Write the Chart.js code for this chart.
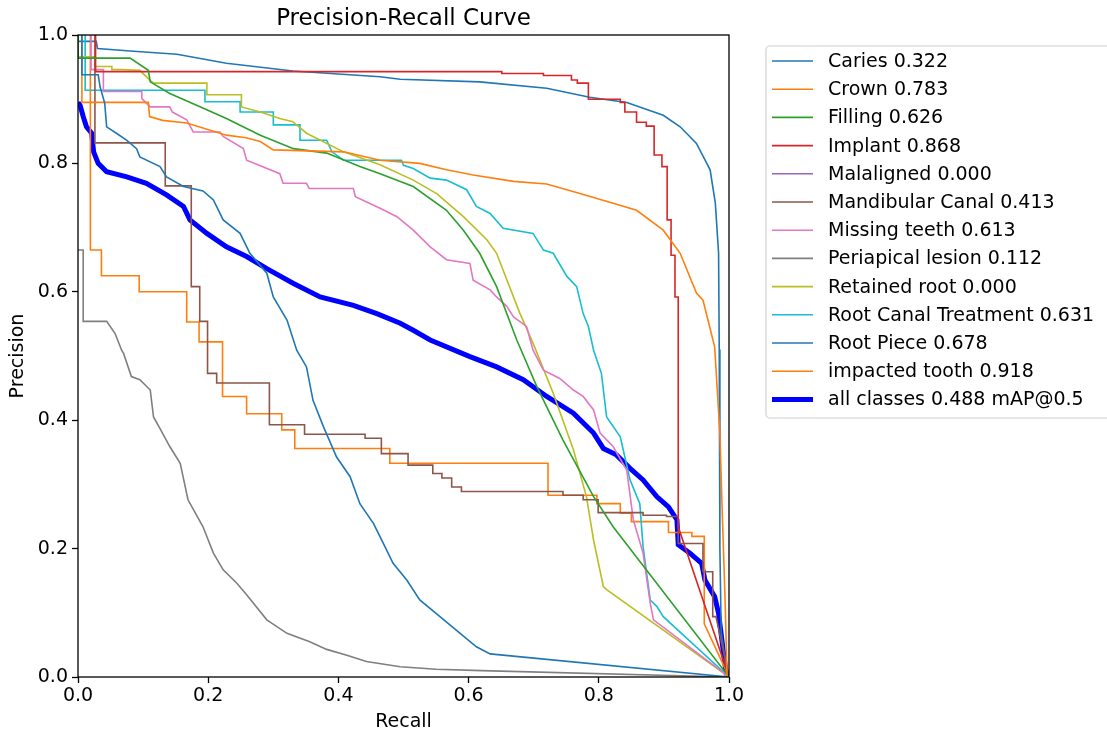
<!DOCTYPE html>
<html>
<head>
<meta charset="utf-8">
<script src="https://cdn.jsdelivr.net/npm/chart.js@4"></script>
<style>
  body { margin: 0; background: #fff; }
  canvas { display: block; }
</style>
</head>
<body>
<canvas id="myChart" width="1107" height="737"></canvas>
<script>
// class names and AP values as shown in the legend
const classNames = ["Caries", "Crown", "Filling", "Implant", "Malaligned", "Mandibular Canal",
  "Missing teeth", "Periapical lesion", "Retained root", "Root Canal Treatment", "Root Piece", "impacted tooth"];
const apValues = [0.322, 0.783, 0.626, 0.868, 0.000, 0.413, 0.613, 0.112, 0.000, 0.631, 0.678, 0.918];
const mapAll = 0.488;
const tickLabels = ["0.0", "0.2", "0.4", "0.6", "0.8", "1.0"];

// [recall, precision] points
const caries = [[0.006,1.0],[0.006,0.938],[0.031,0.938],[0.034,0.919],[0.041,0.894],[0.044,0.857],[0.059,0.847],
  [0.075,0.836],[0.09,0.823],[0.095,0.81],[0.126,0.795],[0.136,0.779],[0.162,0.764],[0.192,0.757],[0.208,0.743],
  [0.223,0.712],[0.249,0.691],[0.264,0.66],[0.29,0.629],[0.30,0.592],[0.321,0.556],[0.336,0.509],[0.351,0.483],
  [0.361,0.431],[0.377,0.39],[0.397,0.343],[0.418,0.312],[0.433,0.27],[0.454,0.239],[0.469,0.208],[0.484,0.177],
  [0.505,0.151],[0.525,0.12],[0.556,0.094],[0.587,0.068],[0.612,0.047],[0.633,0.036],[1.0,0.0]];
const crown = [[0.006,1.0],[0.006,0.895],[0.108,0.895],[0.11,0.873],[0.13,0.867],[0.167,0.863],[0.228,0.844],
  [0.258,0.84],[0.28,0.834],[0.30,0.821],[0.408,0.818],[0.464,0.805],[0.525,0.80],[0.566,0.79],[0.607,0.782],
  [0.669,0.772],[0.72,0.768],[0.771,0.753],[0.822,0.738],[0.858,0.727],[0.899,0.696],[0.925,0.66],[0.95,0.598],
  [0.96,0.587],[0.968,0.555],[0.978,0.514],[0.986,0.38],[0.989,0.276],[0.994,0.12],[0.997,0.0]];
const filling = [[0.0,1.0],[0.0,0.964],[0.08,0.964],[0.108,0.945],[0.111,0.927],[0.141,0.909],[0.177,0.893],
  [0.228,0.87],[0.28,0.844],[0.331,0.823],[0.382,0.816],[0.433,0.795],[0.464,0.784],[0.515,0.764],[0.566,0.727],
  [0.592,0.696],[0.617,0.66],[0.643,0.608],[0.674,0.525],[0.705,0.452],[0.745,0.369],[0.792,0.281],[0.822,0.234],
  [1.0,0.0]];
const implant = [[0.027,1.0],[0.027,0.943],[0.651,0.943],[0.651,0.94],[0.715,0.94],[0.715,0.937],[0.758,0.937],
  [0.758,0.93],[0.767,0.93],[0.767,0.925],[0.784,0.925],[0.784,0.9],[0.833,0.9],[0.833,0.895],[0.84,0.895],
  [0.84,0.88],[0.858,0.88],[0.858,0.864],[0.873,0.864],[0.873,0.858],[0.885,0.858],[0.885,0.813],[0.897,0.813],
  [0.897,0.795],[0.905,0.795],[0.905,0.712],[0.911,0.712],[0.911,0.657],[0.917,0.657],[0.917,0.592],[0.922,0.592],
  [0.922,0.234],[1.0,0.0]];
const malaligned = [];
const mandibular = [[0.026,1.0],[0.026,0.832],[0.134,0.832],[0.134,0.765],[0.174,0.765],[0.174,0.608],[0.187,0.608],
  [0.187,0.554],[0.199,0.554],[0.199,0.473],[0.213,0.473],[0.213,0.458],[0.294,0.458],[0.294,0.393],[0.348,0.393],
  [0.348,0.378],[0.441,0.378],[0.441,0.372],[0.466,0.372],[0.466,0.348],[0.507,0.348],[0.507,0.33],[0.545,0.33],
  [0.545,0.317],[0.559,0.317],[0.559,0.31],[0.574,0.31],[0.574,0.296],[0.589,0.296],[0.589,0.289],[0.745,0.289],
  [0.745,0.283],[0.776,0.283],[0.776,0.276],[0.799,0.276],[0.799,0.256],[0.868,0.256],[0.868,0.252],[0.904,0.252],
  [0.904,0.25],[0.922,0.25],[0.922,0.208],[0.96,0.208],[0.96,0.164],[0.975,0.164],[0.975,0.094],[0.98,0.094],[1.0,0.0]];
const missing = [[0.02,1.0],[0.02,0.946],[0.039,0.946],[0.039,0.912],[0.098,0.912],[0.098,0.901],[0.111,0.888],
  [0.141,0.888],[0.145,0.88],[0.167,0.868],[0.177,0.849],[0.218,0.849],[0.223,0.842],[0.254,0.823],[0.259,0.805],
  [0.31,0.784],[0.315,0.769],[0.351,0.769],[0.355,0.761],[0.423,0.761],[0.426,0.748],[0.464,0.73],[0.49,0.717],
  [0.515,0.696],[0.541,0.67],[0.566,0.65],[0.602,0.644],[0.607,0.618],[0.633,0.603],[0.643,0.592],[0.659,0.577],
  [0.669,0.561],[0.689,0.546],[0.699,0.509],[0.715,0.478],[0.74,0.465],[0.761,0.447],[0.776,0.437],[0.792,0.416],
  [0.802,0.38],[0.822,0.359],[0.843,0.322],[0.853,0.245],[0.868,0.193],[0.879,0.115],[0.884,0.089],[1.0,0.0]];
const periapical = [[0.0,0.665],[0.008,0.665],[0.008,0.554],[0.044,0.554],[0.057,0.535],[0.067,0.509],[0.07,0.504],
  [0.082,0.468],[0.095,0.463],[0.111,0.447],[0.116,0.405],[0.126,0.387],[0.141,0.359],[0.157,0.333],[0.169,0.276],
  [0.192,0.234],[0.208,0.193],[0.223,0.167],[0.244,0.146],[0.259,0.128],[0.29,0.089],[0.321,0.068],[0.356,0.055],
  [0.382,0.043],[0.413,0.034],[0.443,0.024],[0.495,0.016],[0.55,0.012],[0.62,0.01],[1.0,0.0]];
const retained = [[0.0,1.0],[0.0,0.966],[0.026,0.966],[0.026,0.951],[0.052,0.951],[0.052,0.946],[0.067,0.946],
  [0.095,0.945],[0.11,0.93],[0.116,0.925],[0.198,0.925],[0.198,0.907],[0.251,0.907],[0.251,0.888],[0.28,0.88],
  [0.31,0.87],[0.33,0.865],[0.351,0.847],[0.408,0.818],[0.464,0.798],[0.515,0.774],[0.551,0.753],[0.592,0.717],
  [0.628,0.681],[0.643,0.66],[0.659,0.618],[0.679,0.566],[0.699,0.52],[0.73,0.442],[0.761,0.354],[0.781,0.281],
  [0.792,0.213],[0.807,0.141],[0.812,0.136],[1.0,0.0]];
const rootCanal = [[0.011,1.0],[0.011,0.914],[0.195,0.914],[0.195,0.896],[0.249,0.896],[0.249,0.88],[0.30,0.88],
  [0.30,0.86],[0.341,0.86],[0.341,0.836],[0.382,0.836],[0.39,0.818],[0.408,0.805],[0.497,0.805],[0.5,0.797],
  [0.515,0.792],[0.541,0.777],[0.566,0.774],[0.597,0.759],[0.612,0.733],[0.633,0.722],[0.653,0.699],[0.699,0.691],
  [0.715,0.665],[0.73,0.66],[0.751,0.624],[0.766,0.608],[0.776,0.566],[0.784,0.546],[0.792,0.509],[0.804,0.473],
  [0.812,0.405],[0.833,0.374],[0.848,0.307],[0.863,0.27],[0.868,0.203],[0.879,0.12],[0.889,0.11],[0.899,0.094],[1.0,0.0]];
const rootPiece = [[0.0,0.99],[0.028,0.99],[0.03,0.979],[0.08,0.975],[0.152,0.97],[0.228,0.956],[0.33,0.944],
  [0.464,0.935],[0.495,0.931],[0.617,0.927],[0.72,0.917],[0.786,0.903],[0.843,0.895],[0.899,0.875],[0.925,0.857],
  [0.95,0.831],[0.971,0.79],[0.979,0.738],[0.984,0.66],[0.985,0.51],[0.986,0.2],[0.988,0.07],[0.998,0.0]];
const impacted = [[0.019,1.0],[0.019,0.665],[0.036,0.665],[0.036,0.625],[0.094,0.625],[0.094,0.60],[0.167,0.60],
  [0.167,0.553],[0.186,0.553],[0.186,0.522],[0.222,0.522],[0.222,0.437],[0.259,0.437],[0.259,0.41],[0.313,0.41],
  [0.313,0.385],[0.333,0.385],[0.333,0.356],[0.479,0.356],[0.479,0.333],[0.722,0.333],[0.722,0.283],[0.797,0.283],
  [0.797,0.27],[0.833,0.27],[0.833,0.255],[0.85,0.255],[0.85,0.242],[0.907,0.242],[0.907,0.225],[0.943,0.225],
  [0.943,0.219],[0.962,0.219],[0.962,0.083],[1.0,0.0]];
const allClasses = [[0.0,0.895],[0.003,0.891],[0.008,0.873],[0.013,0.857],[0.021,0.847],[0.024,0.818],[0.031,0.80],
  [0.044,0.787],[0.075,0.779],[0.105,0.769],[0.136,0.751],[0.162,0.733],[0.172,0.712],[0.198,0.691],[0.228,0.67],
  [0.259,0.655],[0.29,0.636],[0.331,0.613],[0.372,0.592],[0.423,0.579],[0.459,0.566],[0.495,0.551],[0.515,0.54],
  [0.541,0.525],[0.602,0.499],[0.643,0.483],[0.684,0.463],[0.72,0.437],[0.761,0.411],[0.792,0.38],[0.807,0.356],
  [0.827,0.346],[0.848,0.325],[0.868,0.307],[0.889,0.281],[0.907,0.265],[0.92,0.245],[0.922,0.206],[0.94,0.193],
  [0.958,0.177],[0.963,0.151],[0.978,0.125],[0.984,0.099],[0.991,0.042],[0.996,0.003]];

const curves = [caries, crown, filling, implant, malaligned, mandibular, missing, periapical, retained, rootCanal, rootPiece, impacted];
const colors = ["#1f77b4", "#ff7f0e", "#2ca02c", "#d62728", "#9467bd", "#8c564b",
  "#e377c2", "#7f7f7f", "#bcbd22", "#17becf", "#1f77b4", "#ff7f0e"];

const toXY = (pts) => pts.map((p) => ({ x: p[0], y: p[1] }));

const datasets = curves.map((pts, i) => ({
  label: classNames[i] + " " + apValues[i].toFixed(3),
  data: toXY(pts),
  borderColor: colors[i],
  borderWidth: 1.6,
  pointRadius: 0,
  tension: 0,
}));
datasets.push({
  label: "all classes " + mapAll.toFixed(3) + " mAP@0.5",
  data: toXY(allClasses),
  borderColor: "#0000ff",
  borderWidth: 5,
  pointRadius: 0,
  tension: 0,
});

Chart.defaults.font.family = "'DejaVu Sans', sans-serif";
Chart.defaults.color = "#000";

// title, axes box and legend drawn like matplotlib
const extras = {
  id: "extras",
  afterDatasetsDraw(chart) {
    const { ctx, chartArea: a } = chart;
    ctx.save();
    ctx.strokeStyle = "#000";
    ctx.lineWidth = 1.3;
    ctx.strokeRect(a.left, a.top, a.right - a.left, a.bottom - a.top);
    ctx.restore();
  },
  afterDraw(chart) {
    const { ctx, chartArea: a } = chart;
    ctx.save();
    ctx.fillStyle = "#000";
    ctx.font = "23px 'DejaVu Sans'";
    ctx.textAlign = "center";
    ctx.textBaseline = "alphabetic";
    ctx.fillText("Precision-Recall Curve", (a.left + a.right) / 2, 25);

    // legend
    const bx = 766, by = 46, bh = 372;
    ctx.fillStyle = "#fff";
    ctx.strokeStyle = "#d0d0d0";
    ctx.lineWidth = 1.2;
    ctx.beginPath();
    ctx.roundRect(bx, by, 420, bh, 4);
    ctx.fill();
    ctx.stroke();
    ctx.font = "19px 'DejaVu Sans'";
    ctx.textAlign = "left";
    ctx.textBaseline = "middle";
    chart.data.datasets.forEach((ds, i) => {
      const y = 61 + i * 28.2;
      ctx.strokeStyle = ds.borderColor;
      ctx.lineWidth = ds.borderWidth;
      ctx.beginPath();
      ctx.moveTo(772, y);
      ctx.lineTo(813, y);
      ctx.stroke();
      ctx.fillStyle = "#000";
      ctx.fillText(ds.label, 828, y + 1);
    });
    ctx.restore();
  },
};

const ctx = document.getElementById("myChart");
new Chart(ctx, {
  type: "line",
  data: { datasets: datasets },
  options: {
    responsive: false,
    animation: false,
    devicePixelRatio: 1,
    layout: { padding: { left: 0, top: 35, right: 378, bottom: 0 } },
    plugins: { legend: { display: false }, tooltip: { enabled: false }, title: { display: false } },
    scales: {
      x: {
        type: "linear",
        min: 0,
        max: 1,
        afterFit: (s) => { s.height = 60; },
        border: { display: false },
        grid: { drawOnChartArea: false, drawTicks: true, tickLength: 6, tickColor: "#000", tickWidth: 1.3 },
        ticks: { stepSize: 0.2, padding: 2, font: { size: 19 }, color: "#000",
          callback: (v, i) => tickLabels[i] },
        title: { display: true, text: "Recall", font: { size: 19 }, color: "#000", padding: { top: 0, bottom: 4 } },
      },
      y: {
        type: "linear",
        min: 0,
        max: 1,
        afterFit: (s) => { s.width = 78; },
        border: { display: false },
        grid: { drawOnChartArea: false, drawTicks: true, tickLength: 6, tickColor: "#000", tickWidth: 1.3 },
        ticks: { stepSize: 0.2, padding: 4, font: { size: 19 }, color: "#000",
          callback: (v, i) => tickLabels[i] },
        title: { display: true, text: "Precision", font: { size: 19 }, color: "#000", padding: { top: 7, bottom: 0 } },
      },
    },
  },
  plugins: [extras],
});
</script>
</body>
</html>
